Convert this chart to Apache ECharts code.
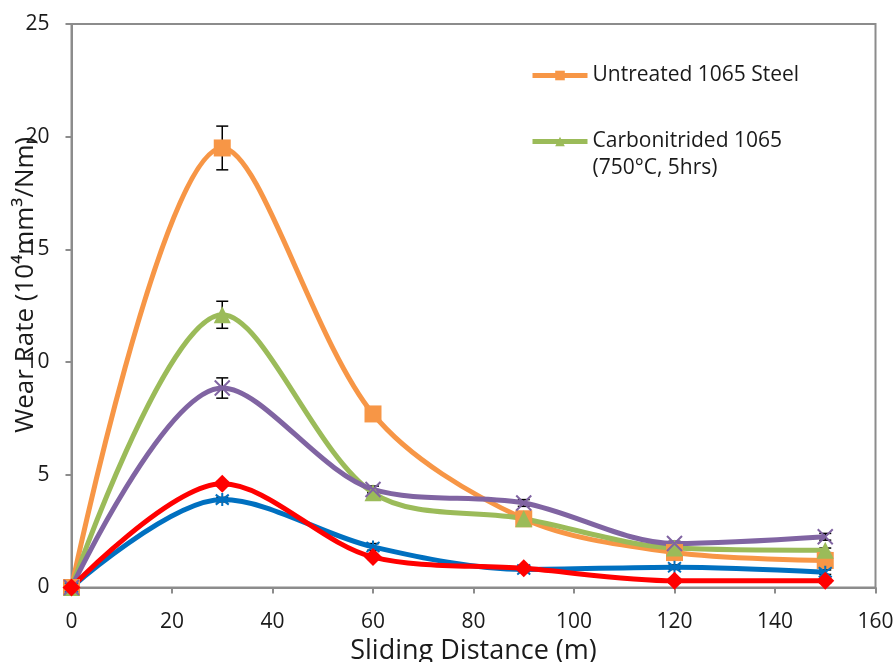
<!DOCTYPE html>
<html>
<head>
<meta charset="utf-8">
<script src="https://cdn.jsdelivr.net/npm/echarts@6/dist/echarts.min.js"></script>
<style>
  html, body { margin: 0; padding: 0; background: #fff; }
  #chart { width: 896px; height: 662px; }
</style>
</head>
<body>
<div id="chart"></div>
<script>
// Sliding distance (m) at which wear rate was measured
const distances = [0, 30, 60, 90, 120, 150];

// Wear rate values for each sample
const untreated      = [0, 19.5, 7.7, 3.05, 1.55, 1.2];
const carbonitrided  = [0, 12.1, 4.2, 3.05, 1.75, 1.65];
const seriesBlue     = [0, 3.9, 1.8, 0.8, 0.9, 0.68];
const seriesPurple   = [0, 8.85, 4.35, 3.75, 1.95, 2.25];
const seriesRed      = [0, 4.6, 1.35, 0.85, 0.3, 0.3];

// Half-widths of the error bars
const untreatedErr     = [0, 0.97, 0.1, 0.1, 0.1, 0.1];
const carbonitridedErr = [0, 0.6, 0.1, 0.1, 0.1, 0.1];
const blueErr          = [0, 0.1, 0.15, 0.1, 0.1, 0.1];
const purpleErr        = [0, 0.45, 0.15, 0.15, 0.1, 0.15];
const redErr           = [0, 0.1, 0.1, 0.1, 0.1, 0.1];

// Axis ranges / ticks
const xTicks = { min: 0, max: 160, interval: 20 };
const yTicks = { min: 0, max: 25, interval: 5 };

const FONT = '"Open Sans", "Noto Sans", sans-serif';

const COLORS = {
  orange: '#F79646',
  green: '#9BBB59',
  blue: '#0070C0',
  purple: '#8064A2',
  red: '#FF0000'
};

const pairs = (ys) => distances.map((x, i) => [x, ys[i]]);
const errRows = (ys, es) => distances
  .map((x, i) => [x, ys[i] - es[i], ys[i] + es[i]])
  .filter((r, i) => es[i] > 0);

const X_SYMBOL = 'path://M0,0L10,10M10,0L0,10';
const STAR_SYMBOL = 'path://M0,0L10,10M10,0L0,10M5,-1.5L5,11.5';

function errorBarSeries(rows) {
  return {
    type: 'custom',
    silent: true,
    z: 1,
    clip: false,
    encode: { x: 0, y: [1, 2] },
    data: rows,
    renderItem: function (params, api) {
      const lo = api.coord([api.value(0), api.value(1)]);
      const hi = api.coord([api.value(0), api.value(2)]);
      const half = 6;
      const style = { stroke: '#000', lineWidth: 1.5 };
      return {
        type: 'group',
        children: [
          { type: 'line', shape: { x1: lo[0], y1: lo[1], x2: hi[0], y2: hi[1] }, style: style },
          { type: 'line', shape: { x1: lo[0] - half, y1: lo[1], x2: lo[0] + half, y2: lo[1] }, style: style },
          { type: 'line', shape: { x1: hi[0] - half, y1: hi[1], x2: hi[0] + half, y2: hi[1] }, style: style }
        ]
      };
    }
  };
}

function lineSeries(name, ys, color, symbol, size, strokeOnly) {
  return {
    name: name,
    type: 'line',
    data: pairs(ys),
    smooth: 0.32,
    clip: false,
    z: 3,
    symbol: symbol,
    symbolSize: size,
    lineStyle: { color: color, width: 5 },
    itemStyle: strokeOnly
      ? { color: 'rgba(0,0,0,0)', borderColor: color, borderWidth: 2 }
      : { color: color, borderWidth: 0 },
    emphasis: { disabled: true }
  };
}

const chart = echarts.init(document.getElementById('chart'), null, { renderer: 'canvas' });

chart.setOption({
  animation: false,
  backgroundColor: '#fff',
  grid: {
    left: 71.5, right: 20.5, top: 24, bottom: 74.5,
    containLabel: false,
    outerBoundsMode: 'none',
    show: true, borderColor: '#8c8c8c', borderWidth: 2, backgroundColor: 'transparent'
  },
  legend: {
    orient: 'vertical',
    left: 530,
    top: 62,
    padding: 0,
    itemWidth: 55,
    itemHeight: 12,
    itemGap: 12,
    lineStyle: { width: 5 },
    data: ['Untreated 1065 Steel', 'Carbonitrided 1065 (750°C, 5hrs)'],
    formatter: function (name) {
      if (name.indexOf('Carbonitrided') === 0) {
        return '\nCarbonitrided 1065\n(750°C, 5hrs)';
      }
      return name;
    },
    textStyle: { fontFamily: FONT, fontSize: 21, color: '#1a1a1a', lineHeight: 27 },
    selectedMode: false
  },
  xAxis: {
    type: 'value',
    min: xTicks.min, max: xTicks.max, interval: xTicks.interval,
    name: 'Sliding Distance (m)',
    nameLocation: 'middle',
    nameGap: 50,
    nameMoveOverlap: false,
    nameTextStyle: { fontFamily: FONT, fontSize: 27, color: '#1a1a1a' },
    axisLine: { lineStyle: { color: '#8c8c8c', width: 2 } },
    axisTick: { show: true, inside: false, length: 6, lineStyle: { color: '#8c8c8c', width: 2 } },
    axisLabel: { fontFamily: FONT, fontSize: 21, color: '#1a1a1a', margin: 24 },
    splitLine: { show: false }
  },
  yAxis: {
    type: 'value',
    min: yTicks.min, max: yTicks.max, interval: yTicks.interval,
    name: 'Wear Rate (10⁴mm³/Nm)',
    nameLocation: 'middle',
    nameGap: 33,
    nameMoveOverlap: false,
    nameRotate: 90,
    nameTextStyle: { fontFamily: FONT, fontSize: 26, color: '#1a1a1a', padding: [0, 0, 0, 42] },
    axisLine: { show: true, lineStyle: { color: '#8c8c8c', width: 2 } },
    axisTick: { show: true, inside: false, length: 6, lineStyle: { color: '#8c8c8c', width: 2 } },
    axisLabel: { fontFamily: FONT, fontSize: 21, color: '#1a1a1a', margin: 22 },
    splitLine: { show: false }
  },
  series: [
    errorBarSeries(errRows(untreated, untreatedErr)),
    errorBarSeries(errRows(carbonitrided, carbonitridedErr)),
    errorBarSeries(errRows(seriesBlue, blueErr)),
    errorBarSeries(errRows(seriesPurple, purpleErr)),
    errorBarSeries(errRows(seriesRed, redErr)),
    lineSeries('Untreated 1065 Steel', untreated, COLORS.orange, 'rect', 17, false),
    lineSeries('Carbonitrided 1065 (750°C, 5hrs)', carbonitrided, COLORS.green, 'triangle', 17, false),
    lineSeries('Series 3', seriesBlue, COLORS.blue, STAR_SYMBOL, 13, true),
    lineSeries('Series 4', seriesPurple, COLORS.purple, X_SYMBOL, 15, true),
    lineSeries('Series 5', seriesRed, COLORS.red, 'diamond', 18, false)
  ]
});
</script>
</body>
</html>
